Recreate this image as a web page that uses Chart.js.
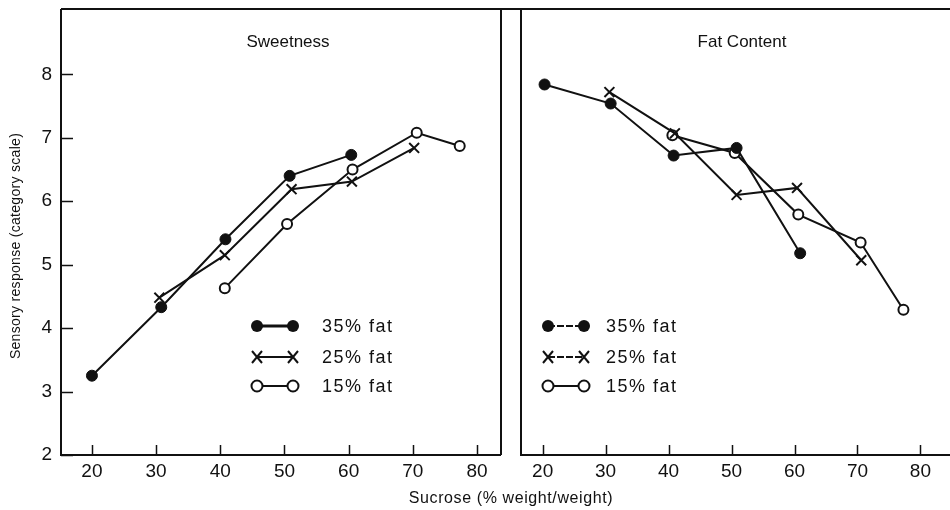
<!DOCTYPE html>
<html>
<head>
<meta charset="utf-8">
<script src="https://cdn.jsdelivr.net/npm/chart.js@4/dist/chart.umd.min.js"></script>
<style>
  html, body { margin: 0; padding: 0; background: #fff; width: 950px; height: 510px; overflow: hidden; }
  #left { position: absolute; left: 0; top: 0; }
  #right { position: absolute; left: 505px; top: 0; }
  #xtitle { position: absolute; left: 0; width: 1022px; top: 489px; text-align: center;
    font: 16px "Liberation Sans", Arial, sans-serif; letter-spacing: 0.6px; color: #111; }
</style>
</head>
<body>
<canvas id="left" width="510" height="510"></canvas>
<canvas id="right" width="450" height="510"></canvas>
<div id="xtitle">Sucrose (% weight/weight)</div>
<script>
// ---------- data ----------
const seriesNames = ["35% fat", "25% fat", "15% fat"];
const xTickValues = [20, 30, 40, 50, 60, 70, 80];
const yTickValues = [2, 3, 4, 5, 6, 7, 8];

// Sweetness panel
const sweetX35 = [20.0, 30.8, 40.8, 50.8, 60.4];
const sweetY35 = [3.25, 4.33, 5.40, 6.40, 6.73];
const sweetX25 = [30.5, 40.7, 51.1, 60.5, 70.2];
const sweetY25 = [4.48, 5.15, 6.19, 6.31, 6.84];
const sweetX15 = [40.7, 50.4, 60.6, 70.6, 77.3];
const sweetY15 = [4.63, 5.64, 6.50, 7.08, 6.87];

// Fat Content panel
const fatX35 = [20.3, 30.8, 40.8, 50.8, 60.9];
const fatY35 = [7.84, 7.54, 6.72, 6.84, 5.18];
const fatX25 = [30.6, 41.0, 50.8, 60.4, 70.6];
const fatY25 = [7.72, 7.07, 6.10, 6.21, 5.07];
const fatX15 = [40.6, 50.5, 60.6, 70.5, 77.3];
const fatY15 = [7.04, 6.76, 5.79, 5.35, 4.29];

// ---------- helpers ----------
const FONT = '"Liberation Sans", Arial, sans-serif';
const pts = (xs, ys) => xs.map((x, i) => ({ x: x, y: ys[i] }));

const styles = [
  { pointStyle: 'circle', pointRadius: 5.5, pointBorderWidth: 1, pointBackgroundColor: '#111', pointBorderColor: '#111' },
  { pointStyle: 'crossRot', pointRadius: 7, pointBorderWidth: 2, pointBackgroundColor: '#111', pointBorderColor: '#111' },
  { pointStyle: 'circle', pointRadius: 5, pointBorderWidth: 2, pointBackgroundColor: '#fff', pointBorderColor: '#111' }
];

function makeDatasets(list) {
  return list.map((d, i) => Object.assign({
    label: seriesNames[i],
    data: pts(d[0], d[1]),
    showLine: true,
    borderColor: '#111',
    borderWidth: 2,
    tension: 0,
    fill: false
  }, styles[i]));
}

function drawMarker(ctx, kind, x, y) {
  ctx.save();
  ctx.strokeStyle = '#111';
  ctx.fillStyle = '#111';
  if (kind === 0) {
    ctx.beginPath(); ctx.arc(x, y, 6, 0, Math.PI * 2); ctx.fill();
  } else if (kind === 1) {
    ctx.lineWidth = 2;
    ctx.beginPath();
    ctx.moveTo(x - 5, y - 6); ctx.lineTo(x + 5, y + 6);
    ctx.moveTo(x + 5, y - 6); ctx.lineTo(x - 5, y + 6);
    ctx.stroke();
  } else {
    ctx.fillStyle = '#fff';
    ctx.lineWidth = 2;
    ctx.beginPath(); ctx.arc(x, y, 5.5, 0, Math.PI * 2); ctx.fill(); ctx.stroke();
  }
  ctx.restore();
}

const decorPlugin = {
  id: 'decor',
  afterDraw(chart, args, opts) {
    const ctx = chart.ctx;
    const a = chart.chartArea;
    const xs = chart.scales.x, ys = chart.scales.y;
    ctx.save();
    ctx.strokeStyle = '#111';
    ctx.lineWidth = 2;
    // frame
    ctx.beginPath();
    ctx.moveTo(opts.topFrom === 'zero' ? 0 : a.left, a.top);
    ctx.lineTo(opts.topTo === 'full' ? chart.width : a.right, a.top);
    ctx.moveTo(a.left, a.top); ctx.lineTo(a.left, a.bottom);
    ctx.lineTo(a.right + (opts.rightBorder ? 0 : 5), a.bottom);
    if (opts.rightBorder) { ctx.moveTo(a.right, a.top); ctx.lineTo(a.right, a.bottom); }
    ctx.stroke();
    // x ticks (pointing inward)
    ctx.lineWidth = 1.5;
    ctx.beginPath();
    xTickValues.forEach(v => {
      const px = Math.round(xs.getPixelForValue(v)) + 0.5;
      ctx.moveTo(px, a.bottom); ctx.lineTo(px, a.bottom - 10);
    });
    if (opts.yTicks) {
      yTickValues.forEach(v => {
        const py = Math.round(ys.getPixelForValue(v)) + 0.5;
        ctx.moveTo(a.left, py); ctx.lineTo(a.left + 12, py);
      });
    }
    ctx.stroke();
    // panel title
    ctx.fillStyle = '#111';
    ctx.font = '17px ' + FONT;
    ctx.textAlign = 'center';
    ctx.textBaseline = 'middle';
    ctx.fillText(opts.title, opts.titleX, 42);
    // y axis title
    if (opts.yTitle) {
      ctx.save();
      ctx.font = '14px ' + FONT;
      ctx.translate(16, 246);
      ctx.rotate(-Math.PI / 2);
      ctx.letterSpacing = '0.3px';
      ctx.fillText(opts.yTitle, 0, 0);
      ctx.restore();
    }
    // legend
    const L = opts.legend;
    ctx.font = '18px ' + FONT;
    ctx.letterSpacing = '1.5px';
    ctx.textAlign = 'left';
    L.rows.forEach((ry, i) => {
      ctx.save();
      ctx.strokeStyle = '#111';
      ctx.lineWidth = (i === 0 && !L.dashed) ? 3 : 2;
      if (L.dashed && i < 2) ctx.setLineDash([7, 2]);
      ctx.beginPath(); ctx.moveTo(L.x1, ry); ctx.lineTo(L.x2, ry); ctx.stroke();
      ctx.restore();
      drawMarker(ctx, i, L.x1, ry);
      drawMarker(ctx, i, L.x2, ry);
      ctx.fillText(seriesNames[i], L.tx, ry + 1);
    });
    ctx.restore();
  }
};

function zeroPad(s) { s.paddingTop = 0; s.paddingBottom = 0; s.paddingLeft = 0; s.paddingRight = 0; }

function baseScales(xmin, xmax, showY) {
  return {
    x: {
      type: 'linear', min: xmin, max: xmax,
      afterBuildTicks: s => { s.ticks = xTickValues.map(v => ({ value: v })); },
      afterFit: s => { s.height = 55; zeroPad(s); },
      grid: { display: false, drawTicks: false },
      border: { display: false },
      ticks: { color: '#111', font: { family: FONT, size: 19 }, padding: 5, maxRotation: 0, autoSkip: false }
    },
    y: {
      type: 'linear', min: 2, max: 9.03, display: showY,
      afterBuildTicks: s => { s.ticks = yTickValues.map(v => ({ value: v })); },
      afterFit: s => { s.width = showY ? 61 : 0; zeroPad(s); },
      grid: { display: false, drawTicks: false },
      border: { display: false },
      ticks: { color: '#111', font: { family: FONT, size: 19 }, padding: 9 }
    }
  };
}

const common = {
  responsive: false,
  animation: false,
  devicePixelRatio: 1,
  events: [],
  plugins: { legend: { display: false }, tooltip: { enabled: false } }
};

new Chart(document.getElementById('left'), {
  type: 'scatter',
  data: { datasets: makeDatasets([[sweetX35, sweetY35], [sweetX25, sweetY25], [sweetX15, sweetY15]]) },
  options: Object.assign({}, common, {
    layout: { padding: { top: 6, right: 8, left: 0, bottom: 0 } },
    scales: baseScales(15.18, 83.73, true),
    plugins: Object.assign({}, common.plugins, {
      decor: {
        title: 'Sweetness', titleX: 288, yTicks: true, rightBorder: true, topTo: 'full',
        yTitle: 'Sensory response (category scale)',
        legend: { x1: 257, x2: 293, tx: 322, rows: [326, 357, 386], dashed: false }
      }
    })
  }),
  plugins: [decorPlugin]
});

new Chart(document.getElementById('right'), {
  type: 'scatter',
  data: { datasets: makeDatasets([[fatX35, fatY35], [fatX25, fatY25], [fatX15, fatY15]]) },
  options: Object.assign({}, common, {
    layout: { padding: { top: 6, right: 2, left: 16, bottom: 0 } },
    scales: baseScales(16.56, 84.06, false),
    plugins: Object.assign({}, common.plugins, {
      decor: {
        title: 'Fat Content', titleX: 237, yTicks: false, rightBorder: false, topFrom: 'zero', topTo: 'full',
        legend: { x1: 43, x2: 79, tx: 101, rows: [326, 357, 386], dashed: true }
      }
    })
  }),
  plugins: [decorPlugin]
});
</script>
</body>
</html>
